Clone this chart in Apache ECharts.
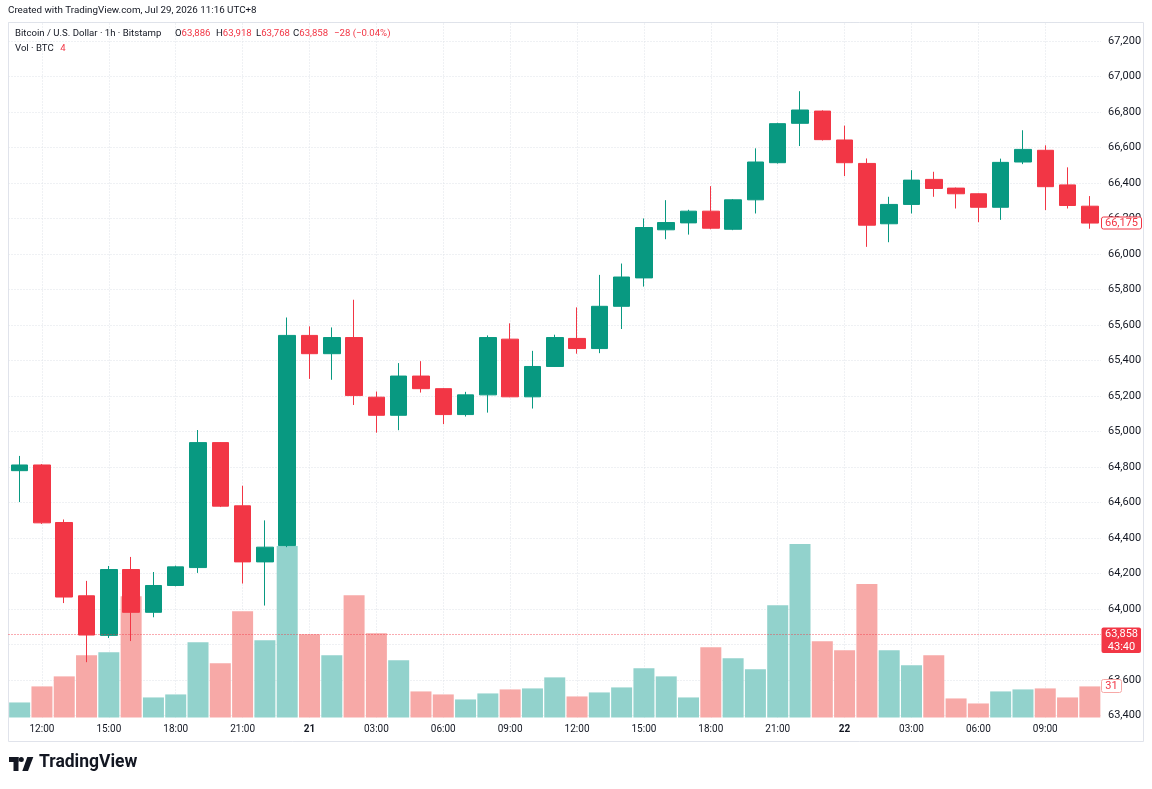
<!DOCTYPE html>
<html>
<head>
<meta charset="utf-8">
<title>Bitcoin / U.S. Dollar · 1h · Bitstamp</title>
<script src="https://cdn.jsdelivr.net/npm/echarts@6/dist/echarts.min.js"></script>
<style>
  html, body { margin: 0; padding: 0; background: #ffffff; }
  #chart { width: 1152px; height: 789px; }
</style>
</head>
<body>
<div id="chart"></div>
<script>
// hourly bars, 20th 11:00 -> 22nd 11:00 (midnight shown as the day number)
var times = [
  "11:00", "12:00", "13:00", "14:00", "15:00", "16:00", "17:00", "18:00", "19:00", "20:00", "21:00", "22:00", "23:00",
  "21", "01:00", "02:00", "03:00", "04:00", "05:00", "06:00", "07:00", "08:00", "09:00", "10:00", "11:00", "12:00",
  "13:00", "14:00", "15:00", "16:00", "17:00", "18:00", "19:00", "20:00", "21:00", "22:00", "23:00",
  "22", "01:00", "02:00", "03:00", "04:00", "05:00", "06:00", "07:00", "08:00", "09:00", "10:00", "11:00"
];

var opens = [
  64780, 64812, 64488, 64075, 63852, 64223, 63982, 64133, 64234, 64938, 64582, 64266, 64358,
  65542, 65439, 65530, 65194, 65092, 65313, 65242, 65096, 65207, 65521, 65196, 65367, 65525,
  65468, 65706, 65866, 66137, 66176, 66242, 66140, 66306, 66515, 66737, 66806,
  66643, 66511, 66171, 66280, 66421, 66372, 66340, 66264, 66519, 66585, 66390, 66270
];
var closes = [
  64812, 64486, 64068, 63854, 64223, 63982, 64133, 64238, 64938, 64580, 64266, 64349, 65542,
  65439, 65530, 65203, 65092, 65313, 65242, 65096, 65207, 65530, 65196, 65367, 65530, 65468,
  65706, 65871, 66150, 66178, 66242, 66146, 66306, 66519, 66735, 66812, 66645,
  66515, 66163, 66280, 66417, 66370, 66340, 66264, 66517, 66590, 66380, 66274, 66175
];
var lows = [
  64603, 64480, 64034, 63701, 63837, 63820, 63954, 64128, 64204, 64575, 64144, 64020, 64349,
  65297, 65292, 65150, 64994, 65008, 65220, 65042, 65085, 65107, 65194, 65130, 65365, 65439,
  65442, 65578, 65817, 66084, 66110, 66140, 66135, 66229, 66510, 66609, 66640,
  66440, 66041, 66067, 66229, 66323, 66257, 66180, 66193, 66507, 66248, 66257, 66143
];
var highs = [
  64863, 64817, 64505, 64159, 64243, 64294, 64209, 64245, 65009, 64940, 64695, 64500, 65643,
  65593, 65587, 65743, 65226, 65386, 65397, 65245, 65224, 65542, 65610, 65455, 65546, 65700,
  65883, 65947, 66201, 66304, 66250, 66383, 66310, 66596, 66740, 66918, 66810,
  66724, 66539, 66323, 66473, 66464, 66375, 66342, 66538, 66698, 66613, 66489, 66327
];
var volumes = [
  15, 31, 41, 62, 65, 121, 20, 23, 75, 54, 106, 77, 171,
  83, 62, 122, 84, 57, 26, 23, 18, 24, 28, 29, 40, 21,
  25, 30, 49, 41, 20, 70, 59, 48, 112, 173, 76,
  67, 133, 67, 52, 62, 19, 14, 26, 28, 29, 20, 31
];

var lastPrice = 63858;
var countdown = "43:40";
var legendOHLC = [["O", "63,886"], ["H", "63,918"], ["L", "63,768"], ["C", "63,858"]];
var legendChange = "\u221228 (\u22120.04%)";
var legendVol = "4";
var stamp = "Created with TradingView.com, Jul 29, 2026 11:16 UTC+8";

var UP = "#089981";
var DOWN = "#f23645";
var UP_VOL = "#92d2cc";
var DOWN_VOL = "#f7a9a7";
var TEXT = "#131722";
var GRID_LINE = "#dfe2e8";
var FONT = "Roboto, 'Noto Sans', sans-serif";

function fmt(v) {
  return String(v).replace(/\B(?=(\d{3})+(?!\d))/g, ",");
}

function isTick(index) {
  return index % 3 === 1;
}

var candles = times.map(function (t, i) {
  return [opens[i], closes[i], lows[i], highs[i]];
});

var volBars = volumes.map(function (v, i) {
  return { value: v, itemStyle: { color: closes[i] >= opens[i] ? UP_VOL : DOWN_VOL } };
});

var vLines = [];
times.forEach(function (t, i) {
  if (isTick(i)) vLines.push({ xAxis: i });
});

var chart = echarts.init(document.getElementById("chart"), null, { renderer: "canvas" });

var gridSide = { left: 8.5, right: 51 };

chart.setOption({
  animation: false,
  backgroundColor: "#ffffff",
  textStyle: { fontFamily: FONT },
  grid: [
    { left: gridSide.left, right: gridSide.right, top: 22.5, bottom: 73.4 },
    { left: gridSide.left, right: gridSide.right, top: 22.5, bottom: 71.5 }
  ],
  xAxis: [
    { type: "category", gridIndex: 0, data: times, boundaryGap: true, show: false },
    {
      type: "category",
      gridIndex: 1,
      data: times,
      boundaryGap: true,
      axisLine: { show: false },
      axisTick: { show: false },
      splitLine: { show: false },
      axisLabel: {
        interval: function (index) { return isTick(index); },
        margin: 7,
        fontSize: 10,
        color: TEXT,
        fontFamily: FONT,
        formatter: function (v) {
          return v.indexOf(":") < 0 ? "{d|" + v + "}" : v;
        },
        rich: { d: { fontWeight: "bold", fontSize: 10, color: TEXT, fontFamily: FONT } }
      }
    }
  ],
  yAxis: [
    {
      type: "value",
      gridIndex: 0,
      position: "right",
      min: 63400,
      max: 67305,
      interval: 200,
      axisLine: { show: false },
      axisTick: { show: false },
      splitLine: { lineStyle: { color: GRID_LINE, type: [1, 2], width: 1 } },
      axisLabel: {
        margin: 7,
        fontSize: 11,
        color: TEXT,
        fontFamily: FONT,
        formatter: function (v) { return v % 200 === 0 ? fmt(v) : ""; }
      }
    },
    { type: "value", gridIndex: 1, min: 0, max: 693, show: false }
  ],
  series: [
    {
      // carrier for the vertical dotted grid lines, kept behind the bars
      type: "line",
      xAxisIndex: 1,
      yAxisIndex: 1,
      data: volumes,
      z: 0,
      silent: true,
      showSymbol: false,
      lineStyle: { opacity: 0 },
      markLine: {
        z: 0,
        silent: true,
        symbol: "none",
        label: { show: false },
        lineStyle: { color: GRID_LINE, type: [1, 2], width: 1 },
        data: vLines
      }
    },
    {
      type: "bar",
      xAxisIndex: 1,
      yAxisIndex: 1,
      data: volBars,
      barWidth: 21,
      z: 1,
      silent: true
    },
    {
      type: "candlestick",
      xAxisIndex: 0,
      yAxisIndex: 0,
      data: candles,
      barWidth: 17,
      z: 3,
      silent: true,
      itemStyle: {
        color: UP,
        color0: DOWN,
        borderColor: UP,
        borderColor0: DOWN,
        borderWidth: 1
      },
      markLine: {
        z: 5,
        silent: true,
        symbol: "none",
        label: { show: false },
        lineStyle: { color: DOWN, type: [1, 2], width: 1, opacity: 0.85 },
        data: [{ yAxis: lastPrice }]
      }
    }
  ]
});

// axis badges and static texts, placed through the axes' own scales
var yLast = chart.convertToPixel({ yAxisIndex: 0 }, closes[closes.length - 1]);
var yPrice = chart.convertToPixel({ yAxisIndex: 0 }, lastPrice);
var yVol = chart.convertToPixel({ yAxisIndex: 1 }, volumes[volumes.length - 1]);
var axisX = 1152 - gridSide.right;

var legendX = [175, 216, 256, 293];
var legendItems = legendOHLC.map(function (p, i) {
  return {
    type: "text",
    left: legendX[i],
    top: 29,
    style: {
      text: "{k|" + p[0] + "}{r|" + p[1] + "}",
      rich: {
        k: { fill: TEXT, fontSize: 9.6, fontFamily: FONT },
        r: { fill: DOWN, fontSize: 9.6, fontFamily: FONT }
      }
    }
  };
});

chart.setOption({
  graphic: [
    {
      type: "rect",
      z: -10,
      shape: { x: 8.5, y: 22.5, width: 1135, height: 719 },
      style: { fill: "none", stroke: "#e0e3eb", lineWidth: 1 }
    },
    {
      type: "text",
      left: 8,
      top: 6,
      style: { text: stamp, fill: TEXT, fontSize: 9.8, fontFamily: FONT }
    },
    {
      type: "text",
      left: 15,
      top: 29,
      style: { text: "Bitcoin / U.S. Dollar \u00b7 1h \u00b7 Bitstamp", fill: TEXT, fontSize: 9.6, fontFamily: FONT }
    },
    {
      type: "text",
      left: 334,
      top: 29,
      style: { text: legendChange, fill: DOWN, fontSize: 9.6, fontFamily: FONT }
    },
    {
      type: "text",
      left: 15,
      top: 43,
      style: {
        text: "{k|Vol \u00b7 BTC}  {r|" + legendVol + "}",
        rich: {
          k: { fill: TEXT, fontSize: 9.6, fontFamily: FONT },
          r: { fill: DOWN, fontSize: 9.6, fontFamily: FONT }
        }
      }
    }
  ].concat(legendItems).concat([
    // last bar close
    {
      type: "rect",
      z: 20,
      shape: { x: axisX + 0.5, y: Math.round(yLast) - 6, width: 40, height: 12, r: 2 },
      style: { fill: "#ffffff", stroke: DOWN, lineWidth: 1 }
    },
    {
      type: "text",
      z: 21,
      x: axisX + 20.5,
      y: Math.round(yLast),
      style: { text: fmt(closes[closes.length - 1]), fill: DOWN, fontSize: 11, fontFamily: FONT, align: "center", verticalAlign: "middle" }
    },
    // current price with countdown
    {
      type: "rect",
      z: 20,
      shape: { x: axisX + 0.5, y: Math.round(yPrice) - 6.5, width: 39.5, height: 25.5, r: 2 },
      style: { fill: DOWN }
    },
    {
      type: "text",
      z: 21,
      x: axisX + 20.5,
      y: Math.round(yPrice) + 6.5,
      style: {
        text: fmt(lastPrice) + "\n" + countdown,
        fill: "#ffffff",
        fontSize: 11,
        lineHeight: 12.5,
        fontFamily: FONT,
        align: "center",
        verticalAlign: "middle"
      }
    },
    // last volume
    {
      type: "rect",
      z: 20,
      shape: { x: axisX + 0.5, y: Math.round(yVol) - 6.5, width: 20, height: 13, r: 2 },
      style: { fill: "#ffffff", stroke: DOWN_VOL, lineWidth: 1 }
    },
    {
      type: "text",
      z: 21,
      x: axisX + 10.5,
      y: Math.round(yVol),
      style: { text: String(volumes[volumes.length - 1]), fill: DOWN, fontSize: 11, fontFamily: FONT, align: "center", verticalAlign: "middle" }
    },
    // logo
    {
      type: "group",
      left: 9,
      top: 757,
      children: [
        { type: "rect", shape: { x: 0, y: 0, width: 9.5, height: 5 }, style: { fill: TEXT } },
        { type: "rect", shape: { x: 4.5, y: 0, width: 5, height: 14 }, style: { fill: TEXT } },
        { type: "circle", shape: { cx: 12.3, cy: 2.6, r: 2.5 }, style: { fill: TEXT } },
        { type: "polygon", shape: { points: [[18.3, 0], [24.3, 0], [19, 14], [13.3, 14]] }, style: { fill: TEXT } }
      ]
    },
    {
      type: "text",
      left: 39,
      top: 754,
      style: { text: "TradingView", fill: TEXT, fontSize: 17.5, fontWeight: "bold", fontFamily: FONT }
    }
  ])
});

window.addEventListener("resize", function () {
  chart.resize();
});
</script>
</body>
</html>
